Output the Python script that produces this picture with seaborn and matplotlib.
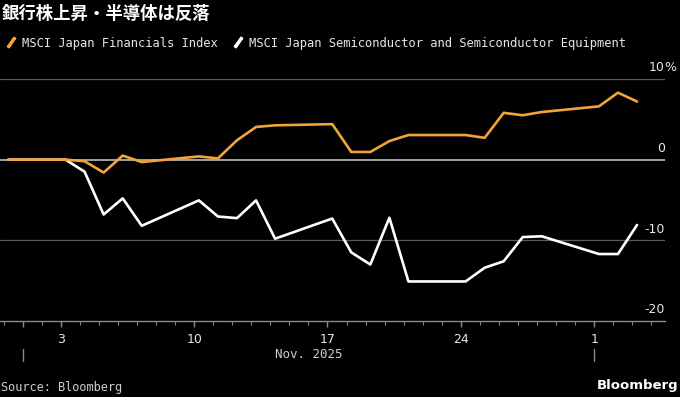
import numpy as np
import pandas as pd
import matplotlib
matplotlib.use("Agg")
import matplotlib.pyplot as plt
import matplotlib.dates as mdates
import matplotlib.transforms as mtransforms
from matplotlib.lines import Line2D
import seaborn as sns

# ---- data (% change since Oct 31) ----
dates = ["2025-10-31", "2025-11-03", "2025-11-04", "2025-11-05", "2025-11-06",
         "2025-11-07", "2025-11-10", "2025-11-11", "2025-11-12", "2025-11-13",
         "2025-11-14", "2025-11-17", "2025-11-18", "2025-11-19", "2025-11-20",
         "2025-11-21", "2025-11-24", "2025-11-25", "2025-11-26", "2025-11-27",
         "2025-11-28", "2025-12-01", "2025-12-02", "2025-12-03"]
financials = [0.0, 0.0, -0.2, -1.6, 0.5, -0.3, 0.4, 0.15, 2.4, 4.05,
              4.25, 4.4, 0.95, 0.95, 2.3, 3.05, 3.05, 2.7, 5.8, 5.5,
              5.9, 6.6, 8.3, 7.2]
semis = [0.0, 0.0, -1.5, -6.8, -4.8, -8.2, -5.05, -7.05, -7.25, -5.05,
         -9.8, -7.3, -11.5, -13.0, -7.2, -15.1, -15.1, -13.4, -12.6, -9.6,
         -9.5, -11.7, -11.7, -8.1]
name_fin = "MSCI Japan Financials Index"
name_semi = "MSCI Japan Semiconductor and Semiconductor Equipment"
title = "銀行株上昇・半導体は反落"
y_grid = [10, 0, -10, -20]
y_labels = ["10", "0", "-10", "-20"]

ORANGE = "#f2a43a"
WHITE = "#ffffff"
BG = "#000000"

# Tokyo close ~ 06:00 UTC
ts = pd.to_datetime(dates) + pd.Timedelta(hours=6)
df = pd.concat([
    pd.DataFrame({"date": ts, "value": semis, "series": name_semi}),
    pd.DataFrame({"date": ts, "value": financials, "series": name_fin}),
])

sns.set_style("dark")
plt.rcParams["font.family"] = ["DejaVu Sans Mono", "Noto Sans CJK JP"]
plt.rcParams["axes.facecolor"] = BG
plt.rcParams["figure.facecolor"] = BG

fig = plt.figure(figsize=(6.8, 3.97), dpi=100)
ax = fig.add_axes([0.0, 1 - 321 / 397, 665 / 680, (321 - 62) / 397])

sns.lineplot(data=df, x="date", y="value", hue="series",
             hue_order=[name_semi, name_fin], palette=[WHITE, ORANGE],
             linewidth=1.9, legend=False, ax=ax, zorder=3)

# gridlines
ax.axhline(10, color="#5a5a5a", lw=0.9, zorder=1)
ax.axhline(-10, color="#5a5a5a", lw=0.9, zorder=1)
ax.axhline(0, color="#cfcfcf", lw=1.1, zorder=2)

ax.set_ylim(-20, 12.1)
ax.set_xlim(pd.Timestamp("2025-10-30 19:25"), pd.Timestamp("2025-12-04 17:15"))
ax.set_xlabel("")
ax.set_ylabel("")
ax.set_yticks([])
ax.grid(False)
for s in ["top", "right", "left"]:
    ax.spines[s].set_visible(False)
ax.spines["bottom"].set_color("#8a8a8a")
ax.spines["bottom"].set_linewidth(1.0)

# y labels sitting above the gridlines on the right
for v, lab in zip(y_grid, y_labels):
    ax.annotate(lab, xy=(1.0, v), xycoords=("axes fraction", "data"),
                xytext=(0, 8), textcoords="offset points",
                ha="right", va="center", color="#e6e6e6", fontsize=9,
                family="DejaVu Sans", annotation_clip=False)
ax.annotate("%", xy=(1.0, 10), xycoords=("axes fraction", "data"),
            xytext=(-0.8, 8), textcoords="offset points",
            ha="left", va="center", color="#e6e6e6", fontsize=9,
            family="DejaVu Sans", annotation_clip=False)

# x ticks: weekly Mondays labelled, plus month start, daily minor ticks
def day_fmt(x, pos=None):
    d = mdates.num2date(x)
    return str(d.day) if d.weekday() == 0 else ""

major = [pd.Timestamp(d) for d in ["2025-11-01", "2025-11-03", "2025-11-10",
                                    "2025-11-17", "2025-11-24", "2025-12-01"]]
ax.set_xticks(major)
ax.xaxis.set_major_formatter(plt.FuncFormatter(day_fmt))
ax.xaxis.set_minor_locator(mdates.DayLocator())
ax.tick_params(axis="x", which="major", length=4.5, width=1, color="#8a8a8a",
               labelcolor="#e6e6e6", labelsize=9, pad=4, bottom=True)
ax.tick_params(axis="x", which="minor", length=3, width=0.8, color="#8a8a8a",
               bottom=True)
for lab in ax.get_xticklabels():
    lab.set_family("DejaVu Sans")

# month row
trans = mtransforms.blended_transform_factory(ax.transData, fig.transFigure)
for m in ["2025-11-01", "2025-12-01"]:
    ax.plot([pd.Timestamp(m)] * 2, [1 - 349 / 397, 1 - 361 / 397], color="#8a8a8a",
            lw=1, transform=trans, clip_on=False)
ax.text(pd.Timestamp("2025-11-16"), 1 - 354 / 397, "Nov. 2025", transform=trans,
        ha="center", va="center", color="#cfcfcf", fontsize=9)

# title, legend, footer
fig.text(0.002, 1 - 14 / 397, title, color="white", fontsize=12.5, fontweight="bold",
         family=["Noto Sans CJK JP", "DejaVu Sans"], ha="left", va="center")
handles = [Line2D([], [], color=c, lw=0, marker=(2, 2, -35), markersize=9,
                  markeredgewidth=2.2, markeredgecolor=c)
           for c in [ORANGE, WHITE]]
leg = fig.legend(handles, [name_fin, name_semi], loc="center left",
                 bbox_to_anchor=(-0.008, 1 - 43 / 397), ncol=2, frameon=False,
                 handlelength=0.9, handletextpad=0.45, columnspacing=1.25,
                 prop={"family": "DejaVu Sans Mono", "size": 8.7})
for t in leg.get_texts():
    t.set_color("#e6e6e6")

fig.text(0.002, 1 - 388 / 397, "Source: Bloomberg", color="#cfcfcf", fontsize=8.6,
         ha="left", va="center")
fig.text(0.997, 1 - 386 / 397, "Bloomberg", color="white", fontsize=9.5,
         fontweight="bold", family="DejaVu Sans", ha="right", va="center")

fig.savefig("out.png", dpi=100, facecolor=BG)
